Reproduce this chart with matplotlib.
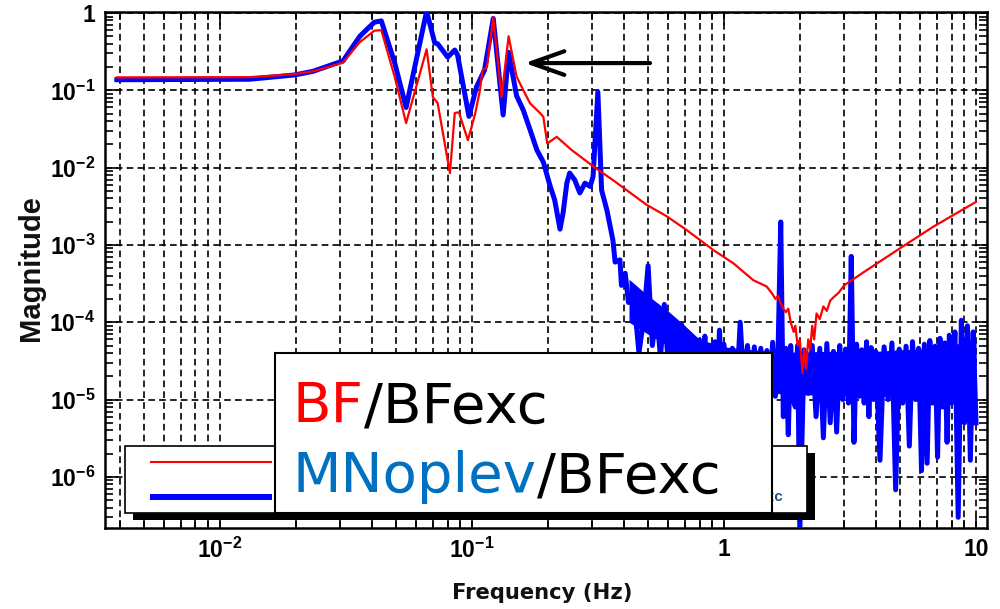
import numpy as np
import matplotlib
matplotlib.use("Agg")
import matplotlib.pyplot as plt
from matplotlib.patches import Rectangle
from matplotlib.ticker import LogLocator, FixedLocator, FuncFormatter, NullFormatter

plt.rcParams.update({
    "font.family": ["Liberation Sans", "DejaVu Sans"],
    "font.weight": "bold",
    "mathtext.fontset": "custom",
    "mathtext.rm": "Liberation Sans:bold",
    "mathtext.it": "Liberation Sans:bold",
    "mathtext.bf": "Liberation Sans:bold",
    "mathtext.sf": "Liberation Sans:bold",
    "path.simplify": False,
})

# ---------------- data ----------------
# BF / BFexc transfer function magnitude
red_freq = [0.0039, 0.0131, 0.0198, 0.0234, 0.0308, 0.0359, 0.0410, 0.0437, 0.0494, 0.0548,
            0.0661, 0.0700, 0.0731, 0.0818, 0.0855, 0.0888, 0.0964, 0.1030, 0.1076, 0.1101,
            0.1147, 0.1215, 0.1311, 0.1398, 0.1504, 0.1600, 0.1700, 0.1810, 0.1860, 0.1920,
            0.1990, 0.2170, 0.2486, 0.3076, 0.3626, 0.4935, 0.5925, 0.711, 0.907, 1.089,
            1.307, 1.477, 1.56, 1.60, 1.64, 1.67, 1.72, 1.76, 1.80, 1.84,
            1.89, 1.92, 1.96, 2.00, 2.05, 2.08, 2.12, 2.16, 2.20, 2.24,
            2.28, 2.33, 2.40, 2.48, 2.56, 2.64, 2.72, 2.85, 3.00, 3.68,
            5.11, 6.77, 10.0]
red_mag = [0.147, 0.148, 0.162, 0.176, 0.228, 0.42, 0.59, 0.60, 0.148, 0.0377,
           0.339, 0.0816, 0.0685, 0.0085, 0.0508, 0.052, 0.0226, 0.050, 0.100, 0.180,
           0.200, 0.880, 0.0816, 0.50, 0.150, 0.100, 0.068, 0.0557, 0.051, 0.0455,
           0.0205, 0.025, 0.0169, 0.0100, 0.0069, 0.0033, 0.00235, 0.00156, 0.00086, 0.00058,
           3.5e-4, 2.9e-4, 2.3e-4, 2.0e-4, 2.2e-4, 1.84e-4, 1.5e-4, 1.35e-4, 1.5e-4, 1.0e-4,
           0.75e-4, 0.9e-4, 0.5e-4, 0.6e-4, 0.22e-4, 0.45e-4, 0.25e-4, 0.6e-4, 0.45e-4, 0.9e-4,
           0.6e-4, 1.3e-4, 1.1e-4, 1.6e-4, 1.4e-4, 1.9e-4, 2.1e-4, 2.4e-4, 3.0e-4, 4.7e-4,
           9.5e-4, 1.72e-3, 3.6e-3]

# MNoplev / BFexc, low-frequency part
blue_lf_freq = [0.0039, 0.0131, 0.0198, 0.0234, 0.0308, 0.0359, 0.0410, 0.0437, 0.0494, 0.0548,
                0.0661, 0.0712, 0.0731, 0.0801, 0.0855, 0.0877, 0.0973, 0.1043, 0.1122, 0.1215,
                0.1330, 0.1398, 0.1504, 0.1600, 0.1700, 0.1810, 0.1920, 0.2036, 0.2130, 0.2236,
                0.2300, 0.2380, 0.2442, 0.2560, 0.2680, 0.2810, 0.2945, 0.3025, 0.3160, 0.3270,
                0.3434, 0.3626, 0.3700, 0.3866, 0.3920, 0.4057, 0.4180]
blue_lf_mag = [0.137, 0.139, 0.158, 0.176, 0.24, 0.50, 0.76, 0.79, 0.225, 0.060,
               1.05, 0.41, 0.40, 0.269, 0.332, 0.286, 0.046, 0.111, 0.183, 0.85,
               0.048, 0.31, 0.085, 0.055, 0.031, 0.0169, 0.0118, 0.0060, 0.0038, 0.0016,
               0.0026, 0.0063, 0.0085, 0.0069, 0.0047, 0.0063, 0.0057, 0.0077, 0.095, 0.0051,
               0.0028, 0.00115, 0.00060, 0.00064, 0.00030, 0.00043, 0.00018]

# MNoplev / BFexc, high-frequency noise floor (magnitudes in units of 1e-5)
blue_hf_freq = [0.44, 0.46, 0.48, 0.50, 0.52, 0.54, 0.56, 0.58, 0.60, 0.62,
                0.64, 0.66, 0.68, 0.70, 0.72, 0.74, 0.76, 0.78, 0.80, 0.82,
                0.84, 0.86, 0.88, 0.90, 0.92, 0.94, 0.96, 0.98, 1.00,
                1.04, 1.08, 1.12, 1.16, 1.20, 1.24, 1.28, 1.32, 1.36, 1.40,
                1.44, 1.48, 1.52, 1.56, 1.60, 1.64, 1.68, 1.72, 1.76, 1.80,
                1.84, 1.88, 1.92, 1.96, 2.00,
                2.08, 2.16, 2.24, 2.32, 2.40, 2.48, 2.56, 2.64, 2.72, 2.80,
                2.88, 2.96, 3.04, 3.12, 3.20, 3.28, 3.36, 3.44, 3.52, 3.60,
                3.68, 3.76, 3.84, 3.92, 4.00,
                4.16, 4.32, 4.48, 4.64, 4.80, 4.96, 5.12, 5.28, 5.44, 5.60,
                5.76, 5.92, 6.08, 6.24, 6.40, 6.56, 6.72, 6.88, 7.04, 7.20,
                7.36, 7.52, 7.68, 7.84, 8.00,
                8.25, 8.50, 8.75, 9.00, 9.25, 9.50, 9.75, 10.0]
blue_hf_mag_e5 = [19, 4.0, 11, 54, 5.0, 14, 3.5, 17, 3.0, 10,
                  2.4, 7.9, 9.2, 2.0, 6.5, 1.8, 6.2, 1.5, 5.9, 1.9,
                  6.6, 1.4, 5.0, 1.7, 5.6, 1.2, 7.9, 1.6, 5.2,
                  1.3, 4.6, 1.1, 10, 1.5, 5.0, 1.0, 4.8, 1.4, 4.6,
                  1.2, 4.3, 0.9, 5.5, 1.1, 4.5, 198, 0.6, 4.6, 0.35,
                  5.0, 1.0, 0.8, 5.0, 0.02,
                  4.4, 1.2, 5.0, 0.60, 4.6, 0.32, 5.3, 0.50, 4.2, 0.38,
                  5.0, 1.0, 4.5, 0.9, 71, 0.28, 5.2, 1.1, 4.4, 0.9,
                  5.6, 0.60, 4.7, 1.0, 4.2,
                  0.164, 4.8, 1.0, 5.4, 0.068, 4.5, 0.9, 4.9, 0.25, 5.6,
                  1.0, 4.6, 0.12, 5.2, 0.15, 5.8, 0.9, 4.9, 0.18, 6.2,
                  0.8, 5.4, 0.28, 6.8, 0.9,
                  7.5, 0.030, 10.6, 0.5, 9.0, 0.164, 7.5, 0.5]

# dense core of the noise floor: upper and lower edges (units of 1e-5)
blue_band_freq = [0.42, 0.50, 0.60, 0.70, 0.80, 1.0, 1.3, 1.6, 2.0,
                  2.5, 3.0, 4.0, 5.0, 6.0, 7.0, 8.0, 9.0, 10.0]
blue_band_hi_e5 = [36, 22, 14, 9.0, 6.0, 4.8, 4.4, 4.2, 4.1,
                   4.2, 4.2, 4.2, 4.4, 4.5, 4.7, 5.0, 5.6, 6.0]
blue_band_lo_e5 = [10, 7.0, 5.0, 3.0, 1.8, 1.4, 1.3, 1.2, 1.15,
                   1.15, 1.15, 1.1, 1.1, 1.05, 1.0, 1.0, 0.95, 0.9]
HF_UNIT = 1e-5

x_decades = [0.01, 0.1, 1, 10]
y_decades = [1e-6, 1e-5, 1e-4, 1e-3, 1e-2, 1e-1, 1]

blue_freq = np.concatenate([blue_lf_freq, blue_hf_freq])
blue_mag = np.concatenate([blue_lf_mag, np.array(blue_hf_mag_e5) * HF_UNIT])

W, H = 1000, 609

# ---------------- figure ----------------
fig = plt.figure(figsize=(W / 100, H / 100), dpi=100)
fig.patch.set_facecolor("white")
ax = fig.add_axes([0.105, 81 / H, 0.882, 516 / H])
ax.set_xscale("log")
ax.set_yscale("log")
ax.set_xlim(3.5e-3, 11.06)
ax.set_ylim(2.18e-7, 1.03)

ax.fill_between(blue_band_freq, np.array(blue_band_lo_e5) * HF_UNIT,
                np.array(blue_band_hi_e5) * HF_UNIT, color="#0000ff", lw=0, zorder=3)
ax.plot(blue_freq, blue_mag, color="#0000ff", lw=3.6, solid_joinstyle="round", zorder=3)
ax.plot(red_freq, red_mag, color="#ff0000", lw=1.6, zorder=4)

# grid: dashed verticals at every decade subdivision, horizontals at decades
ax.set_axisbelow(True)
grid_kw = dict(color="black", lw=1.2, linestyle=(0, (4, 2.5)))
ax.grid(True, which="both", axis="x", **grid_kw)
ax.grid(True, which="major", axis="y", **grid_kw)

ax.xaxis.set_major_locator(FixedLocator(x_decades))
ax.yaxis.set_major_locator(FixedLocator(y_decades))
for axis in (ax.xaxis, ax.yaxis):
    axis.set_minor_locator(LogLocator(base=10, subs=np.arange(2, 10), numticks=20))
    axis.set_minor_formatter(NullFormatter())


def decade_label(v, pos):
    e = int(round(np.log10(v)))
    if e == 0:
        return "1"
    if e == 1:
        return "10"
    return r"$10^{%d}$" % e


ax.xaxis.set_major_formatter(FuncFormatter(decade_label))
ax.yaxis.set_major_formatter(FuncFormatter(decade_label))
ax.tick_params(which="both", direction="in", top=True, right=True, width=1.2, colors="black")
ax.tick_params(which="major", length=9, labelsize=16.5, pad=7)
ax.tick_params(which="minor", length=5.5)
for sp in ax.spines.values():
    sp.set_linewidth(1.8)

fig.text(31 / W, 1 - 268 / H, "Magnitude", rotation=90, ha="center", va="center",
         fontsize=21, fontweight="bold", family="Liberation Sans", color="#111111")
fig.text(542 / W, 1 - 599 / H, "Frequency (Hz)", ha="center", va="baseline",
         fontsize=15.2, fontweight="bold", family="DejaVu Sans", color="#111111")

# arrow pointing at the 0.14 Hz resonance
ax.annotate("", xy=(0.162, 0.225), xytext=(0.509, 0.225),
            arrowprops=dict(arrowstyle="->,head_length=2.4,head_width=0.85",
                            lw=3, color="black", mutation_scale=10,
                            shrinkA=0, shrinkB=0),
            annotation_clip=False, zorder=6)

# ---------------- legends (overlay in pixel coordinates) ----------------
ov = fig.add_axes([0, 0, 1, 1], zorder=10)
ov.set_xlim(0, W)
ov.set_ylim(H, 0)
ov.axis("off")

# plot legend with drop shadow; its labels sit mostly under the label box
ov.add_patch(Rectangle((133, 453), 682, 67, facecolor="black", edgecolor="none"))
ov.add_patch(Rectangle((125, 446), 682, 67, facecolor="white", edgecolor="black", lw=1.2))
ov.plot([150, 272], [462, 462], color="#ff0000", lw=1.5, solid_capstyle="butt")
ov.plot([150, 272], [497, 497], color="#0000ff", lw=4.3, solid_capstyle="butt")
ov.text(783, 497, "MNoplev/BFexc", ha="right", va="center", fontsize=11, color="#1c4f8c")

# large label box
ov.add_patch(Rectangle((275, 353), 497, 160, facecolor="white", edgecolor="black", lw=1.5, zorder=5))
big = dict(fontsize=40.5, family="DejaVu Sans", fontweight="normal", zorder=6)
t1 = ov.text(293, 422, "BF", color="#ff0000", va="baseline", ha="left", **big)
ov.annotate("/BFexc", xy=(1, 0), xycoords=t1, va="bottom", ha="left", color="black", **big)
t3 = ov.text(293, 492, "MNoplev", color="#0070c0", va="baseline", ha="left", **big)
ov.annotate("/BFexc", xy=(1, 0), xycoords=t3, va="bottom", ha="left", color="black", **big)

fig.savefig("out.png", dpi=100, facecolor="white")
